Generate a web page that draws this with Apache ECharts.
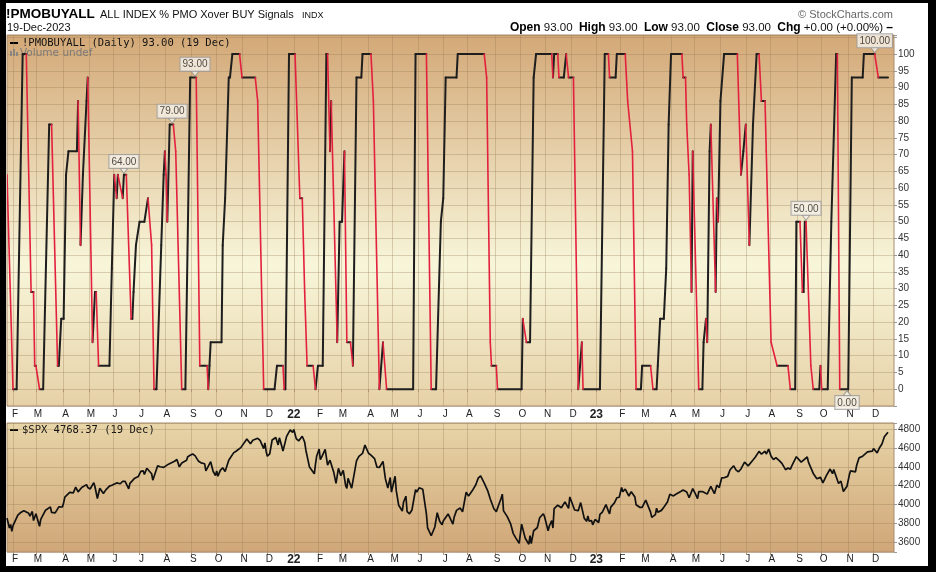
<!DOCTYPE html>
<html><head><meta charset="utf-8">
<script src="https://cdn.jsdelivr.net/npm/echarts@6/dist/echarts.min.js"></script>
<style>
html,body{margin:0;padding:0;background:#000;width:936px;height:572px;overflow:hidden;}
#page{position:absolute;left:6px;top:3px;width:922px;height:563px;background:#fff;}
#chart{position:absolute;left:0;top:0;width:936px;height:572px;}
</style></head><body>
<div id="page"></div>
<div id="chart"></div>
<script>
// ---------- calendar ----------
const startDate = '2021-01-25';
const endDate = '2023-12-27';
const marketHolidays = ['2021-02-15','2021-04-02','2021-05-31','2021-07-05','2021-09-06','2021-11-25','2021-12-24',
 '2022-01-17','2022-02-21','2022-04-15','2022-05-30','2022-06-20','2022-07-04','2022-09-05','2022-11-24','2022-12-26',
 '2023-01-02','2023-01-16','2023-02-20','2023-04-07','2023-05-29','2023-06-19','2023-07-04','2023-09-04','2023-11-23','2023-12-25'];
const monthLetters = ['J','F','M','A','M','J','J','A','S','O','N','D'];

// ---------- !PMOBUYALL key points [date, value] ----------
const pmoPoints = [
['2021-01-25',64],['2021-02-01',0],['2021-02-04',0],['2021-02-11',100],['2021-02-17',100],['2021-02-23',29],['2021-02-25',29],['2021-02-26',7],['2021-03-01',7],['2021-03-04',0],['2021-03-09',0],['2021-03-16',79],['2021-03-18',79],['2021-03-25',7],['2021-03-26',7],['2021-03-30',21],['2021-04-01',21],['2021-04-06',64],['2021-04-08',71],['2021-04-19',71],['2021-04-20',86],['2021-04-22',43],['2021-04-26',64],['2021-04-29',86],['2021-04-30',93],
['2021-05-06',14],['2021-05-10',29],['2021-05-11',29],['2021-05-13',7],['2021-05-26',7],['2021-05-28',36],['2021-06-02',64],['2021-06-04',57],['2021-06-07',64],['2021-06-11',57],['2021-06-14',64],['2021-06-16',64],['2021-06-22',21],['2021-06-23',21],['2021-06-24',29],['2021-06-28',43],['2021-07-01',50],['2021-07-08',50],['2021-07-13',57],['2021-07-16',43],['2021-07-20',0],['2021-07-22',0],['2021-07-28',43],['2021-07-30',64],
['2021-08-02',71],['2021-08-03',64],['2021-08-04',50],['2021-08-06',79],['2021-08-11',79],['2021-08-13',71],['2021-08-20',0],['2021-08-25',0],['2021-08-31',93],['2021-09-08',93],['2021-09-13',7],['2021-09-21',7],['2021-09-22',0],['2021-09-23',7],['2021-09-24',14],['2021-10-07',14],['2021-10-08',43],['2021-10-12',57],['2021-10-15',93],['2021-10-18',93],['2021-10-20',100],['2021-10-28',100],['2021-11-01',93],['2021-11-16',93],['2021-11-18',86],['2021-11-26',0],['2021-12-09',0],['2021-12-13',7],['2021-12-20',7],['2021-12-21',0],['2021-12-22',0],['2021-12-28',100],
['2022-01-04',100],['2022-01-10',57],['2022-01-12',57],['2022-01-14',29],['2022-01-19',7],['2022-01-26',7],['2022-01-28',0],['2022-02-01',7],['2022-02-07',7],['2022-02-10',100],['2022-02-11',100],['2022-02-15',71],['2022-02-16',86],['2022-02-24',14],['2022-02-28',50],['2022-03-02',50],['2022-03-04',71],['2022-03-08',14],['2022-03-11',14],['2022-03-15',7],['2022-03-18',93],['2022-03-24',93],['2022-03-25',100],['2022-04-05',100],['2022-04-07',86],['2022-04-14',0],['2022-04-20',14],['2022-04-25',0],['2022-05-25',0],['2022-05-27',100],['2022-06-10',100],['2022-06-16',0],['2022-06-23',0],['2022-06-29',50],['2022-07-01',57],['2022-07-06',93],['2022-07-19',93],['2022-07-20',100],
['2022-08-19',100],['2022-08-23',93],['2022-08-26',14],['2022-08-29',7],['2022-09-02',7],['2022-09-06',0],['2022-10-04',0],['2022-10-05',21],['2022-10-10',14],['2022-10-13',14],['2022-10-18',93],['2022-10-20',100],['2022-11-08',100],['2022-11-09',93],['2022-11-10',100],['2022-11-15',100],['2022-11-16',93],['2022-11-22',93],['2022-11-25',100],['2022-11-29',93],['2022-12-05',93],['2022-12-09',0],['2022-12-14',14],['2022-12-15',0],
['2023-01-06',0],['2023-01-12',100],['2023-01-18',100],['2023-01-19',93],['2023-01-26',93],['2023-01-27',100],['2023-02-07',100],['2023-02-09',86],['2023-02-15',71],['2023-02-21',0],['2023-02-27',0],['2023-02-28',7],['2023-03-09',7],['2023-03-13',0],['2023-03-16',0],['2023-03-17',7],['2023-03-21',21],['2023-03-24',21],['2023-03-28',36],['2023-03-30',79],['2023-04-03',100],['2023-04-17',100],['2023-04-18',93],['2023-04-20',93],['2023-04-21',79],['2023-04-25',64],['2023-04-27',29],['2023-04-28',71],
['2023-05-05',0],['2023-05-10',0],['2023-05-11',14],['2023-05-15',21],['2023-05-16',14],['2023-05-18',71],['2023-05-19',79],['2023-05-25',29],['2023-05-26',57],['2023-05-30',50],['2023-06-01',86],['2023-06-06',100],['2023-06-22',100],['2023-06-27',64],['2023-06-29',71],['2023-07-03',79],['2023-07-07',43],['2023-07-12',79],['2023-07-17',100],['2023-07-19',100],['2023-07-21',86],['2023-07-26',86],['2023-07-27',71],
['2023-08-02',14],['2023-08-09',7],['2023-08-22',7],['2023-08-24',0],['2023-08-30',0],['2023-08-31',50],['2023-09-06',50],['2023-09-08',29],['2023-09-11',29],['2023-09-12',50],['2023-09-13',50],['2023-09-19',7],['2023-09-21',0],['2023-09-28',0],['2023-09-29',7],['2023-10-02',0],['2023-10-09',0],['2023-10-12',50],['2023-10-18',100],['2023-10-19',100],['2023-10-23',0],['2023-11-01',0],['2023-11-06',93],['2023-11-17',93],['2023-11-20',100],['2023-12-04',100],['2023-12-07',93],['2023-12-19',93]
];

// peak / trough annotations: [date, value, side]
const pmoAnnotations = [['2021-06-14',64,'top'],['2021-08-10',79,'top'],['2021-09-07',93,'top'],['2023-09-13',50,'top'],['2023-12-04',100,'top'],['2023-10-31',0,'bottom']];

// ---------- $SPX [date, close] ----------
const spxPoints = [
['2021-01-25',3855],['2021-01-26',3850],['2021-01-27',3750],['2021-01-28',3787],['2021-01-29',3714],
['2021-02-01',3774],['2021-02-03',3830],['2021-02-05',3886],['2021-02-09',3911],['2021-02-12',3934],['2021-02-16',3932],['2021-02-19',3906],['2021-02-22',3876],['2021-02-24',3925],['2021-02-25',3829],['2021-02-26',3811],
['2021-03-01',3901],['2021-03-04',3768],['2021-03-05',3841],['2021-03-08',3821],['2021-03-11',3939],['2021-03-12',3943],['2021-03-17',3974],['2021-03-18',3915],['2021-03-19',3913],['2021-03-23',3910],['2021-03-24',3889],['2021-03-26',3974],['2021-03-31',3973],
['2021-04-01',4019],['2021-04-05',4078],['2021-04-09',4128],['2021-04-14',4124],['2021-04-16',4185],['2021-04-20',4134],['2021-04-23',4180],['2021-04-29',4211],['2021-04-30',4181],
['2021-05-04',4165],['2021-05-07',4232],['2021-05-10',4188],['2021-05-12',4063],['2021-05-14',4173],['2021-05-19',4116],['2021-05-21',4155],['2021-05-26',4195],['2021-05-28',4204],
['2021-06-04',4229],['2021-06-09',4220],['2021-06-11',4247],['2021-06-15',4246],['2021-06-18',4166],['2021-06-21',4224],['2021-06-25',4280],['2021-06-30',4298],
['2021-07-02',4352],['2021-07-07',4358],['2021-07-08',4320],['2021-07-12',4385],['2021-07-16',4327],['2021-07-19',4258],['2021-07-23',4411],['2021-07-27',4401],['2021-07-30',4395],
['2021-08-05',4429],['2021-08-12',4460],['2021-08-16',4479],['2021-08-18',4400],['2021-08-20',4441],['2021-08-26',4470],['2021-08-27',4509],['2021-08-31',4523],
['2021-09-02',4537],['2021-09-07',4520],['2021-09-10',4459],['2021-09-14',4443],['2021-09-17',4433],['2021-09-20',4358],['2021-09-24',4455],['2021-09-28',4353],['2021-09-30',4308],
['2021-10-01',4357],['2021-10-04',4300],['2021-10-06',4363],['2021-10-08',4391],['2021-10-12',4350],['2021-10-15',4471],['2021-10-21',4549],['2021-10-25',4566],['2021-10-29',4605],
['2021-11-05',4697],['2021-11-10',4646],['2021-11-12',4683],['2021-11-18',4704],['2021-11-22',4682],['2021-11-26',4595],['2021-11-29',4655],['2021-11-30',4567],
['2021-12-01',4513],['2021-12-03',4538],['2021-12-07',4686],['2021-12-10',4712],['2021-12-14',4634],['2021-12-15',4709],['2021-12-17',4620],['2021-12-20',4568],['2021-12-23',4725],['2021-12-29',4793],['2021-12-31',4766],
['2022-01-03',4797],['2022-01-04',4793],['2022-01-05',4701],['2022-01-07',4677],['2022-01-12',4726],['2022-01-14',4663],['2022-01-18',4577],['2022-01-21',4398],['2022-01-24',4410],['2022-01-27',4326],['2022-01-28',4432],['2022-01-31',4516],
['2022-02-02',4590],['2022-02-03',4478],['2022-02-04',4501],['2022-02-09',4587],['2022-02-11',4419],['2022-02-15',4471],['2022-02-18',4349],['2022-02-23',4225],['2022-02-25',4385],
['2022-03-01',4306],['2022-03-03',4364],['2022-03-07',4201],['2022-03-08',4171],['2022-03-09',4278],['2022-03-14',4173],['2022-03-18',4463],['2022-03-22',4512],['2022-03-25',4543],['2022-03-29',4632],
['2022-04-01',4545],['2022-04-05',4525],['2022-04-08',4488],['2022-04-12',4397],['2022-04-14',4393],['2022-04-20',4459],['2022-04-22',4272],['2022-04-26',4175],['2022-04-28',4287],['2022-04-29',4132],
['2022-05-04',4300],['2022-05-05',4147],['2022-05-09',3991],['2022-05-12',3930],['2022-05-13',4023],['2022-05-17',4088],['2022-05-18',3923],['2022-05-20',3901],['2022-05-24',3941],['2022-05-27',4158],['2022-05-31',4132],
['2022-06-02',4177],['2022-06-07',4161],['2022-06-10',3901],['2022-06-13',3750],['2022-06-16',3667],['2022-06-17',3675],['2022-06-22',3760],['2022-06-24',3912],['2022-06-28',3821],['2022-06-30',3785],
['2022-07-01',3825],['2022-07-08',3899],['2022-07-14',3790],['2022-07-15',3863],['2022-07-19',3937],['2022-07-22',3962],['2022-07-26',3921],['2022-07-29',4130],
['2022-08-02',4091],['2022-08-05',4145],['2022-08-10',4210],['2022-08-12',4280],['2022-08-16',4305],['2022-08-19',4228],['2022-08-24',4141],['2022-08-26',4058],['2022-08-31',3955],
['2022-09-02',3924],['2022-09-06',3908],['2022-09-09',4067],['2022-09-12',4110],['2022-09-13',3932],['2022-09-16',3873],['2022-09-21',3790],['2022-09-23',3693],['2022-09-27',3647],['2022-09-30',3586],
['2022-10-04',3791],['2022-10-07',3640],['2022-10-12',3577],['2022-10-13',3669],['2022-10-14',3583],['2022-10-18',3720],['2022-10-21',3752],['2022-10-25',3859],['2022-10-28',3901],['2022-10-31',3872],
['2022-11-03',3720],['2022-11-04',3771],['2022-11-08',3828],['2022-11-09',3749],['2022-11-10',3956],['2022-11-15',3992],['2022-11-18',3965],['2022-11-23',4027],['2022-11-29',3958],['2022-11-30',4080],
['2022-12-01',4076],['2022-12-06',3941],['2022-12-09',3934],['2022-12-13',4020],['2022-12-16',3852],['2022-12-20',3821],['2022-12-21',3879],['2022-12-22',3822],['2022-12-27',3829],['2022-12-28',3783],['2022-12-30',3840],
['2023-01-03',3825],['2023-01-05',3808],['2023-01-06',3895],['2023-01-10',3919],['2023-01-13',3999],['2023-01-18',3929],['2023-01-19',3899],['2023-01-20',3972],['2023-01-25',4017],['2023-01-27',4071],['2023-01-31',4077],
['2023-02-02',4180],['2023-02-03',4136],['2023-02-07',4164],['2023-02-10',4090],['2023-02-14',4136],['2023-02-17',4079],['2023-02-21',3997],['2023-02-24',3970],['2023-02-28',3970],
['2023-03-03',4046],['2023-03-06',4048],['2023-03-09',3918],['2023-03-10',3862],['2023-03-13',3855],['2023-03-15',3892],['2023-03-16',3960],['2023-03-17',3917],['2023-03-22',3937],['2023-03-24',3971],['2023-03-29',4027],['2023-03-31',4109],
['2023-04-05',4091],['2023-04-10',4109],['2023-04-14',4138],['2023-04-18',4154],['2023-04-21',4133],['2023-04-25',4071],['2023-04-26',4056],['2023-04-28',4169],
['2023-05-02',4119],['2023-05-04',4061],['2023-05-05',4136],['2023-05-10',4137],['2023-05-12',4124],['2023-05-16',4110],['2023-05-19',4192],['2023-05-24',4115],['2023-05-26',4205],['2023-05-31',4180],
['2023-06-02',4282],['2023-06-06',4284],['2023-06-09',4299],['2023-06-13',4369],['2023-06-16',4410],['2023-06-21',4366],['2023-06-23',4348],['2023-06-27',4378],['2023-06-30',4450],
['2023-07-06',4411],['2023-07-07',4399],['2023-07-12',4473],['2023-07-14',4505],['2023-07-19',4565],['2023-07-21',4536],['2023-07-26',4566],['2023-07-27',4537],['2023-07-31',4589],
['2023-08-02',4513],['2023-08-04',4478],['2023-08-08',4499],['2023-08-11',4464],['2023-08-15',4437],['2023-08-18',4370],['2023-08-22',4388],['2023-08-24',4376],['2023-08-25',4406],['2023-08-31',4508],
['2023-09-01',4516],['2023-09-07',4451],['2023-09-08',4457],['2023-09-14',4505],['2023-09-15',4450],['2023-09-21',4330],['2023-09-22',4320],['2023-09-26',4274],['2023-09-29',4288],
['2023-10-03',4229],['2023-10-06',4309],['2023-10-11',4377],['2023-10-13',4327],['2023-10-16',4373],['2023-10-20',4224],['2023-10-24',4248],['2023-10-26',4137],['2023-10-27',4117],['2023-10-31',4194],
['2023-11-02',4318],['2023-11-03',4358],['2023-11-09',4347],['2023-11-10',4415],['2023-11-14',4496],['2023-11-17',4514],['2023-11-24',4559],['2023-11-30',4568],
['2023-12-01',4595],['2023-12-06',4549],['2023-12-08',4604],['2023-12-12',4644],['2023-12-14',4720],['2023-12-15',4719],['2023-12-19',4768]
];

// ---------- build ----------
function tradingDays(){
  const out=[]; let d=new Date(startDate+'T00:00:00Z'); const e=new Date(endDate+'T00:00:00Z');
  while(d<=e){ const dow=d.getUTCDay(); const s=d.toISOString().slice(0,10);
    if(dow!==0 && dow!==6 && marketHolidays.indexOf(s)<0) out.push(s);
    d=new Date(d.getTime()+86400000); }
  return out;
}
const days = tradingDays();
function idxOf(date){ for(let i=0;i<days.length;i++){ if(days[i]>=date) return i; } return days.length-1; }
const isMonthStart = (i) => i>0 && days[i].slice(0,7)!==days[i-1].slice(0,7);

const pmoIdx = pmoPoints.map(p=>[idxOf(p[0]), p[1]]);
const pmoSegments = [];
for(let i=1;i<pmoIdx.length;i++){
  const a=pmoIdx[i-1], b=pmoIdx[i];
  pmoSegments.push([a[0],a[1],b[0],b[1], b[1]<a[1]?1:0]);
}
const spxData = spxPoints.map(p=>[idxOf(p[0]), p[1]]);

const gridColor = 'rgba(150,120,85,0.32)';
const labelFont = '"Liberation Sans", Arial, sans-serif';

function makeX(gi){
  return {
    type:'category', gridIndex:gi, data:days, boundaryGap:false,
    axisLine:{show:false},
    axisTick:{show:true, interval:isMonthStart, length:3, lineStyle:{color:'#b39274'}},
    axisLabel:{interval:isMonthStart, margin: gi===0?3:2, color:'#222', fontSize:10, fontFamily:labelFont,
      formatter:(v)=>{ const m=+v.slice(5,7); return m===1 ? '{y|'+v.slice(2,4)+'}' : '{m|'+monthLetters[m-1]+'}'; },
      rich:{y:{fontWeight:'bold', fontSize:12, color:'#222', fontFamily:labelFont},
            m:{fontSize:10, color:'#222', fontFamily:labelFont, padding:[0,0,0,4]}}},
    splitLine:{show:true, interval:isMonthStart, lineStyle:{color:gridColor, width:1}}
  };
}

const chart = echarts.init(document.getElementById('chart'), null, {renderer:'canvas'});
const option = {
  animation:false,
  backgroundColor:'transparent',
  grid:[
    {left:7, right:42, top:35, height:371, show:true, borderColor:'#a98d6e', borderWidth:1,
     backgroundColor:new echarts.graphic.LinearGradient(0,0,0,1,[{offset:0,color:'#d3a877'},{offset:0.62,color:'#f8f6da'},{offset:1,color:'#e6d1a7'}])},
    {left:7, right:42, top:423, height:129, show:true, borderColor:'#a98d6e', borderWidth:1,
     backgroundColor:new echarts.graphic.LinearGradient(0,0,0,1,[{offset:0,color:'#e7d5a8'},{offset:1,color:'#d0a677'}])}
  ],
  xAxis:[makeX(0), makeX(1)],
  yAxis:[
    {type:'value', gridIndex:0, position:'right', min:-5, max:105.7, interval:5,
     axisLine:{show:false}, axisTick:{show:true, length:3, lineStyle:{color:'#999'}},
     axisLabel:{color:'#333', fontSize:10, fontFamily:labelFont, margin:4,
       formatter:(v)=> (v>=0 && v<=100) ? String(v) : ''},
     splitLine:{show:true, lineStyle:{color:gridColor}}},
    {type:'value', gridIndex:1, position:'right', min:3494, max:4867, splitNumber:7,
     axisLine:{show:false}, axisTick:{show:true, length:3, lineStyle:{color:'#999'}},
     axisLabel:{color:'#333', fontSize:10, fontFamily:labelFont, margin:4,
       formatter:(v)=> (v%200===0 && v>=3600 && v<=4800) ? String(v) : ''},
     splitLine:{show:true, lineStyle:{color:gridColor}}}
  ],
  series:[
    {type:'custom', xAxisIndex:0, yAxisIndex:0, clip:true, silent:true,
     dimensions:['x0','y0','x1','y1','fall'],
     encode:{x:[0,2], y:[1,3]},
     data:pmoSegments,
     renderItem:(params, api)=>{
       const p0=api.coord([api.value(0), api.value(1)]);
       const p1=api.coord([api.value(2), api.value(3)]);
       const f=api.value(4)===1;
       return {type:'line', z2: f?2:1,
         shape:{x1:p0[0], y1:p0[1], x2:p1[0], y2:p1[1]},
         style:{stroke: f?'#e3203d':'#1e1e1e', lineWidth: f?1.6:2, lineCap:'round'}};
     }},
    {type:'scatter', xAxisIndex:0, yAxisIndex:0, silent:true, z:5,
     symbol:'triangle', symbolSize:[8,5],
     itemStyle:{color:'#f4f0e6', borderColor:'#8a8a8a', borderWidth:0.8},
     label:{show:true, formatter:(p)=>p.value[1].toFixed(2), backgroundColor:'#f7f3ea', borderColor:'#9a9a9a', borderWidth:1,
       padding:[2,2,1,2], fontSize:10, color:'#222', fontFamily:labelFont, distance:0},
     data: pmoAnnotations.map(a=>({value:[idxOf(a[0]), a[1]], symbolRotate: a[2]==='top'?180:0,
        symbolOffset:[0, a[2]==='top'?-4:4], label:{position:a[2]}}))},
    {type:'line', xAxisIndex:1, yAxisIndex:1, showSymbol:false, silent:true,
     lineStyle:{color:'#111', width:1.7}, data:spxData}
  ],
  graphic:[
    {type:'text', x:6, y:14, style:{text:'!PMOBUYALL', font:'bold 13.5px '+labelFont, fill:'#000', textVerticalAlign:'middle', verticalAlign:'middle'}},
    {type:'text', x:100, y:15, style:{text:'ALL INDEX % PMO Xover BUY Signals', font:'11px '+labelFont, fill:'#111', textVerticalAlign:'middle', verticalAlign:'middle'}},
    {type:'text', x:302, y:16, style:{text:'INDX', font:'9px '+labelFont, fill:'#111', textVerticalAlign:'middle', verticalAlign:'middle'}},
    {type:'text', x:7, y:28, style:{text:'19-Dec-2023', font:'11px '+labelFont, fill:'#111', textVerticalAlign:'middle', verticalAlign:'middle'}},
    {type:'text', x:893, y:15, style:{text:'© StockCharts.com', font:'11px '+labelFont, fill:'#666', textAlign:'right', align:'right', textVerticalAlign:'middle', verticalAlign:'middle'}},
    {type:'text', x:893, y:28, style:{
      text:'{b|Open} 93.00  {b|High} 93.00  {b|Low} 93.00  {b|Close} 93.00  {b|Chg} +0.00 (+0.00%) {b|–}',
      font:'11.5px '+labelFont, fill:'#111', textAlign:'right', align:'right', textVerticalAlign:'middle', verticalAlign:'middle',
      rich:{b:{fontWeight:'bold', fontSize:12, fontFamily:labelFont, fill:'#000'}}}},
    {type:'rect', shape:{x:10, y:42, width:8, height:2}, style:{fill:'#000'}},
    {type:'text', x:22, y:43, style:{text:'!PMOBUYALL (Daily) 93.00 (19 Dec)', font:'10.5px "DejaVu Sans Mono", monospace', fill:'#111', textVerticalAlign:'middle', verticalAlign:'middle'}},
    {type:'rect', shape:{x:10, y:51, width:2, height:5}, style:{fill:'#888'}},
    {type:'rect', shape:{x:13, y:49, width:2, height:7}, style:{fill:'#888'}},
    {type:'rect', shape:{x:16, y:52, width:2, height:4}, style:{fill:'#888'}},
    {type:'text', x:20, y:53, style:{text:'Volume undef', font:'10.5px "DejaVu Sans", sans-serif', fill:'#7a7a7a', textVerticalAlign:'middle', verticalAlign:'middle'}},
    {type:'rect', shape:{x:10, y:429, width:8, height:2}, style:{fill:'#000'}},
    {type:'text', x:22, y:430, style:{text:'$SPX 4768.37 (19 Dec)', font:'10.5px "DejaVu Sans Mono", monospace', fill:'#111', textVerticalAlign:'middle', verticalAlign:'middle'}}
  ]
};
chart.setOption(option);
</script>
</body></html>
